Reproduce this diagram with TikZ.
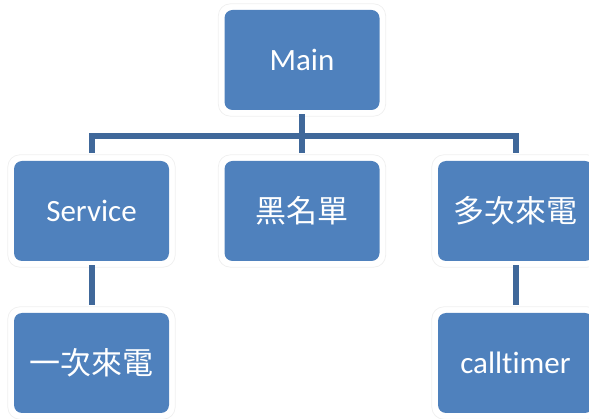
\documentclass[tikz,border=0pt]{standalone}
\usepackage{fontspec}
\setmainfont{Carlito}[Ligatures={NoCommon}]
\newfontfamily\cjk{Noto Sans CJK TC}
\usetikzlibrary{backgrounds}
\definecolor{boxblue}{RGB}{79,129,189}
\definecolor{lineblue}{RGB}{64,104,154}
\begin{document}
\begin{tikzpicture}[x=1pt,y=-1pt,
  orgbox/.style={fill=boxblue, rounded corners=8pt, minimum width=155pt, minimum height=100pt, inner sep=0pt, text=white, font=\fontsize{31}{36}\selectfont},
  cjkbox/.style={orgbox, font=\cjk\fontsize{31}{36}\selectfont},
  link/.style={draw=lineblue, line width=6pt},
  glow/.style={draw=black!6, line width=0.8pt, rounded corners=12pt}]
\useasboundingbox (0,0) rectangle (589,419);
\node[orgbox] (main) at (302,60) {Main};
\node[orgbox] (service) at (91.5,211) {Service};
\node[cjkbox] (black) at (302,211) {黑名單};
\node[cjkbox] (multi) at (515.5,211) {多次來電};
\node[cjkbox] (once) at (91.5,363) {一次來電};
\node[orgbox] (timer) at (515.5,363) {calltimer};
\coordinate (bar) at (302,136);
\begin{scope}[on background layer]
  \foreach \n in {main,service,black,multi,once,timer}
    \draw[glow] ([shift={(-6,-6)}]\n.north west) rectangle ([shift={(6,6)}]\n.south east);
  \draw[link, shorten <=4pt] (main.south) -- (bar);
  \draw[link, shorten >=8pt] (bar) -- (black.north);
  \draw[link, shorten <=8pt, shorten >=8pt] (service.north) |- (bar) -| (multi.north);
  \draw[link, shorten <=4pt, shorten >=8pt] (service.south) -- (once.north);
  \draw[link, shorten <=4pt, shorten >=8pt] (multi.south) -- (timer.north);
\end{scope}
\end{tikzpicture}
\end{document}
